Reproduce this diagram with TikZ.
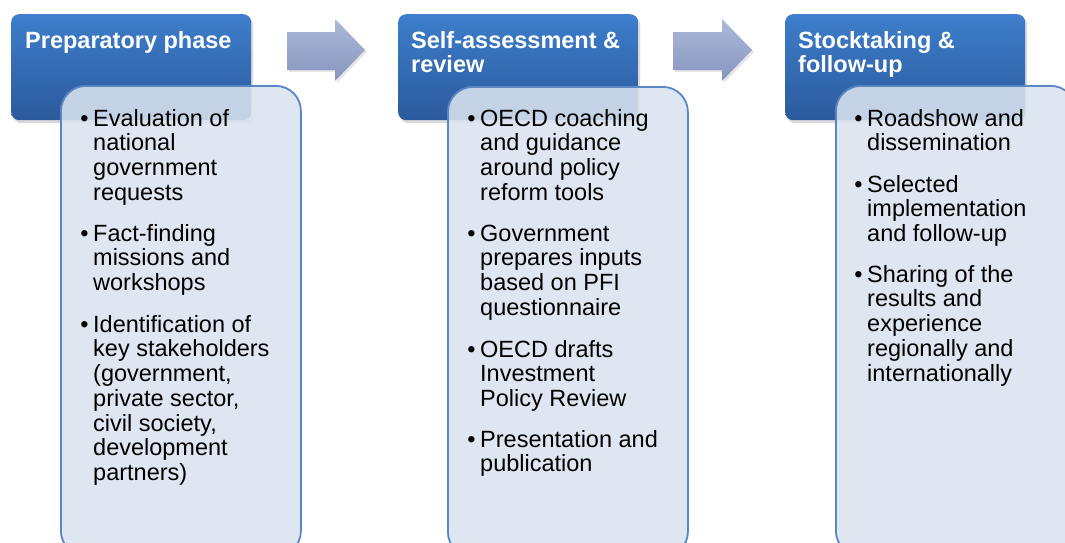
\documentclass[tikz,border=0pt]{standalone}
\usepackage{fontspec}
\setmainfont{Liberation Sans}
\usetikzlibrary{shadows}
\definecolor{hdtop}{HTML}{3E7ECC}
\definecolor{hdbot}{HTML}{2B5A9C}
\definecolor{bdfill}{HTML}{DAE3F0}
\definecolor{bdline}{HTML}{5A86C4}
\definecolor{artop}{HTML}{ABBADA}
\definecolor{arbot}{HTML}{8795BE}
\newcommand{\bul}{\rule{0pt}{18pt}\llap{•\hspace{4.5pt}}}
\newcommand{\hstr}{\rule{0pt}{18pt}}
\begin{document}
\begin{tikzpicture}[x=1pt,y=-1pt,
  hdr/.style={rounded corners=8pt, top color=hdtop, bottom color=hdbot,
    minimum width=240pt, minimum height=106pt, anchor=north west, inner sep=0pt,
    drop shadow={opacity=0.3,shadow xshift=2pt,shadow yshift=-3pt}},
  body/.style={rounded corners=25pt, fill=bdfill, fill opacity=0.88, draw=bdline,
    line width=1.8pt, minimum width=240pt, minimum height=470pt, anchor=north west, inner sep=0pt},
  arr/.style={top color=artop, bottom color=arbot,
    drop shadow={opacity=0.2,shadow xshift=2pt,shadow yshift=-2pt}},
  htext/.style={anchor=north west, align=left, inner sep=0pt, text=white,
    font=\fontsize{23.5pt}{24pt}\selectfont\bfseries},
  itext/.style={anchor=north west, align=left, inner sep=0pt, text=black,
    font=\fontsize{23.5pt}{24.7pt}\selectfont}]
\useasboundingbox (0,0) rectangle (1065,542);
% arrows
\path[arr] (287,32) -- (335,32) -- (335,19) -- (365,50) -- (335,81) -- (335,70) -- (287,70) -- cycle;
\path[arr] (673,32) -- (722,32) -- (722,19) -- (752,50) -- (722,81) -- (722,70) -- (673,70) -- cycle;
% headers
\node[hdr] (h1) at (11,14) {};
\node[hdr] (h2) at (398,14) {};
\node[hdr] (h3) at (785,14) {};
\node[htext] (ht1) at (25,30) {\hstr Preparatory phase};
\node[htext] (ht2) at (411,30) {\hstr Self-assessment \&\\review};
\node[htext] (ht3) at (798,30) {\hstr Stocktaking \&\\follow-up};
% bodies
\node[body] (b1) at (60,85) {};
\node[body] (b2) at (447,86) {};
\node[body] (b3) at (835,85) {};
% items column 1
\node[itext] (t11) at (93,108) {\bul Evaluation of\\national\\government\\requests};
\node[itext] (t12) at (93,223) {\bul Fact-finding\\missions and\\workshops};
\node[itext] (t13) at (93,314) {\bul Identification of\\key stakeholders\\(government,\\private sector,\\civil society,\\development\\partners)};
% column 2
\node[itext] (t21) at (480,108) {\bul OECD coaching\\and guidance\\around policy\\reform tools};
\node[itext] (t22) at (480,223) {\bul Government\\prepares inputs\\based on PFI\\questionnaire};
\node[itext] (t23) at (480,339) {\bul OECD drafts\\Investment\\Policy Review};
\node[itext] (t24) at (480,429) {\bul Presentation and\\publication};
% column 3
\node[itext] (t31) at (867,108) {\bul Roadshow and\\dissemination};
\node[itext] (t32) at (867,174) {\bul Selected\\implementation\\and follow-up};
\node[itext] (t33) at (867,264) {\bul Sharing of the\\results and\\experience\\regionally and\\internationally};
\end{tikzpicture}
\end{document}
